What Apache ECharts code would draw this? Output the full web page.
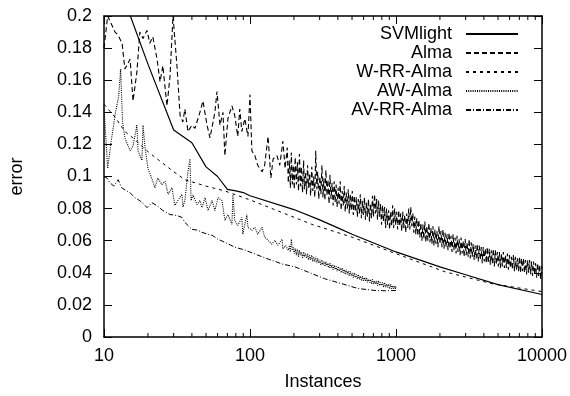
<!DOCTYPE html>
<html>
<head>
<meta charset="utf-8">
<script src="https://cdn.jsdelivr.net/npm/echarts@6/dist/echarts.min.js"></script>
<style>html,body{margin:0;padding:0;background:#fff}#c{width:570px;height:396px}</style>
</head>
<body>
<div id="c"></div>
<script>
// ---- data ([instances, error]) ----
const seriesNames = ['SVMlight', 'Alma', 'W-RR-Alma', 'AW-Alma', 'AV-RR-Alma'];
const xTicks = [10, 100, 1000, 10000];
const yTicks = [0, 0.02, 0.04, 0.06, 0.08, 0.1, 0.12, 0.14, 0.16, 0.18, 0.2];

const svmData = [[10,0.245],[20,0.170],[30,0.129],[40,0.121],[50,0.106],[60,0.100],[70,0.092],[80,0.091],[90,0.090],[100,0.088],
  [200,0.0794],[300,0.073],[400,0.068],[500,0.064],[1000,0.053],[2000,0.0437],[3000,0.0388],[5000,0.0326],[10000,0.0265]];

const wrrData = [[10,0.145],[11.9,0.137],[13.9,0.128],[15.8,0.124],[19.7,0.116],[23.1,0.111],[30,0.103],[35.8,0.098],[50,0.094],
  [67.3,0.091],[103,0.085],[265,0.0702],[500,0.0622],[1154,0.0498],[2170,0.0406],[4550,0.0332],[10000,0.0283]];

const almaData = [[10,0.180],[10.6,0.200],[11.9,0.190],[12.5,0.188],[13.3,0.183],[13.9,0.167],[15.1,0.173],[15.8,0.147],[16.8,0.165],
  [17.6,0.190],[18.5,0.186],[19.7,0.191],[20.6,0.183],[21.6,0.187],[23.1,0.173],[24.2,0.159],[25.3,0.169],[27.0,0.144],[28.3,0.162],
  [29.7,0.200],[31.6,0.169],[33.2,0.138],[34.7,0.134],[35.8,0.142],[37.6,0.128],[40.0,0.132],[42.0,0.130],[45.4,0.140],[47.6,0.147],
  [50.8,0.132],[53.2,0.124],[57.5,0.140],[59.4,0.153],[62.3,0.132],[65.3,0.140],[67.3,0.113],[70.6,0.136],[75.2,0.144],[78.6,0.138],
  [82.5,0.125],[85.1,0.142],[87.9,0.128],[92.2,0.136],[96.8,0.125],[100,0.151],[103,0.116],[108,0.113],[113,0.107],[121,0.103],
  [126,0.107],[133,0.125],[139,0.099],[144,0.111],[153,0.113],[160,0.107],[168,0.122],[174,0.105],
  [180,0.118],[183,0.096],[186,0.110],[189,0.093],[192,0.115],[195,0.095],[198,0.107],[201,0.092],[204,0.112],
  [208,0.095],[211,0.109],[215,0.091],[218,0.114],[222,0.094],[225,0.106],[229,0.090],[233,0.110],[236,0.092],[240,0.103],
  [244,0.089],[248,0.107],[252,0.093],[256,0.102],[260,0.088],[265,0.106],[269,0.091],[273,0.100],[278,0.087],[282,0.116],
  [287,0.092],[291,0.103],[296,0.086],[301,0.100],[306,0.089],[311,0.107],[316,0.087],[321,0.099],[326,0.085],[331,0.104],
  [337,0.088],[342,0.098],[348,0.083],[353,0.101],[359,0.086],[365,0.096],[371,0.082],[377,0.097],[383,0.084],[389,0.095],
  [395,0.081],[402,0.093],[408,0.083],[415,0.097],[421,0.079],[428,0.091],[435,0.082],[442,0.094],[449,0.078],[456,0.090],
  [464,0.080],[471,0.092],[479,0.077],[486,0.089],[494,0.079],[502,0.091],[510,0.076],[518,0.088],[527,0.078],[535,0.087],
  [544,0.075],[552,0.086],[561,0.077],[570,0.089],[580,0.074],[589,0.085],[598,0.076],[608,0.087],[618,0.073],[628,0.084],
  [638,0.075],[648,0.086],[658,0.072],[669,0.083],[680,0.074],[690,0.088],[701,0.075],[713,0.089],[724,0.077],[736,0.086],
  [747,0.073],[759,0.085],[772,0.075],[784,0.083],[796,0.070],[809,0.082],[822,0.072],[835,0.081],[849,0.068],[862,0.080],
  [876,0.070],[890,0.079],[904,0.067],[919,0.078],[934,0.069],[949,0.082],[964,0.068],[979,0.080],[995,0.070],[1011,0.078],
  [1027,0.067],[1044,0.079],[1060,0.069],[1077,0.077],[1095,0.066],[1112,0.078],[1130,0.068],[1148,0.076],[1166,0.065],[1185,0.077],
  [1204,0.068],[1223,0.080],[1243,0.067],[1263,0.081],[1283,0.069],[1304,0.077],[1324,0.065],[1346,0.075],[1367,0.064],[1389,0.074],
  [1411,0.063],[1434,0.073],[1457,0.062],[1480,0.071],[1504,0.060],[1528,0.070],[1552,0.061],[1577,0.072],[1602,0.059],[1628,0.069],
  [1654,0.060],[1681,0.071],[1708,0.059],[1735,0.068],[1763,0.058],[1791,0.069],[1820,0.057],[1849,0.067],[1878,0.058],[1908,0.066],
  [1939,0.056],[1970,0.069],[2001,0.058],[2033,0.066],[2066,0.056],[2099,0.067],[2133,0.055],[2167,0.065],[2201,0.056],[2237,0.064],
  [2272,0.054],[2309,0.065],[2346,0.055],[2383,0.063],[2421,0.053],[2460,0.064],[2499,0.054],[2539,0.062],[2580,0.052],[2621,0.063],
  [2663,0.053],[2706,0.061],[2749,0.051],[2793,0.062],[2838,0.052],[2883,0.060],[2929,0.050],[2976,0.061],[3024,0.051],[3072,0.059],
  [3121,0.050],[3171,0.061],[3222,0.049],[3274,0.059],[3326,0.050],[3379,0.058],[3433,0.048],[3488,0.057],[3544,0.049],[3601,0.058],
  [3658,0.047],[3717,0.057],[3776,0.048],[3837,0.056],[3898,0.046],[3960,0.056],[4024,0.047],[4088,0.055],[4154,0.046],[4220,0.056],
  [4288,0.046],[4356,0.055],[4426,0.045],[4497,0.054],[4569,0.046],[4642,0.055],[4716,0.044],[4792,0.054],[4868,0.045],[4946,0.053],
  [5025,0.044],[5106,0.053],[5188,0.043],[5271,0.052],[5355,0.044],[5441,0.053],[5528,0.043],[5616,0.051],[5706,0.043],[5797,0.052],
  [5890,0.042],[5984,0.051],[6080,0.043],[6177,0.050],[6276,0.042],[6377,0.051],[6479,0.041],[6582,0.050],[6688,0.042],[6795,0.049],
  [6903,0.041],[7014,0.050],[7126,0.040],[7240,0.049],[7356,0.041],[7473,0.049],[7593,0.040],[7714,0.048],[7838,0.039],[7963,0.048],
  [8091,0.040],[8220,0.048],[8352,0.039],[8485,0.047],[8621,0.038],[8759,0.047],[8899,0.039],[9041,0.046],[9186,0.037],[9333,0.046],
  [9482,0.038],[9634,0.045],[9788,0.036],[9945,0.044],[10000,0.040]];

const awData = [[10,0.143],[10.6,0.105],[11.2,0.122],[12.0,0.140],[12.6,0.150],[13.0,0.167],[13.4,0.134],[13.9,0.124],[15.1,0.116],
  [15.8,0.119],[16.8,0.132],[17.1,0.116],[18.2,0.110],[18.5,0.132],[19.1,0.118],[20.0,0.105],[21.6,0.097],[22.3,0.093],[23.4,0.099],
  [24.9,0.095],[26.2,0.097],[27.5,0.089],[29.2,0.093],[30.6,0.082],[32.1,0.085],[34.2,0.089],[34.7,0.081],[35.8,0.085],[37.6,0.103],
  [38.8,0.111],[39.5,0.085],[40.7,0.0886],[43.3,0.0825],[45.4,0.085],[46.9,0.0806],[49.2,0.0868],[51.6,0.0788],[55.0,0.085],
  [57.5,0.0788],[60.4,0.0868],[64.3,0.085],[67.3,0.0726],[70.6,0.0763],[75.2,0.0702],[76.4,0.0886],[78.6,0.0726],[82.5,0.0695],
  [88,0.0745],[89.3,0.064],[95.2,0.0763],[96.8,0.0683],[103,0.0665],[108,0.0683],[113,0.064],[121,0.0683],[126,0.0622],[133,0.0603],
  [141,0.0578],[148,0.0603],[155,0.0572],[166,0.0609],[168,0.0548],[175,0.057],
  [180,0.058],[183,0.054],[186,0.057],[189,0.053],[192,0.061],[195,0.054],[198,0.056],[201,0.052],[204,0.055],
  [208,0.051],[211,0.055],[215,0.050],[218,0.054],[222,0.051],[225,0.053],[229,0.049],[233,0.053],[236,0.050],[240,0.052],
  [244,0.049],[248,0.052],[252,0.048],[256,0.051],[260,0.048],[265,0.051],[269,0.047],[273,0.050],[278,0.047],[282,0.050],
  [287,0.046],[291,0.049],[296,0.046],[301,0.048],[306,0.045],[311,0.048],[316,0.045],[321,0.047],[326,0.044],[331,0.047],
  [337,0.044],[342,0.046],[348,0.043],[353,0.046],[359,0.043],[365,0.045],[371,0.042],[377,0.045],[383,0.042],[389,0.044],
  [395,0.041],[402,0.044],[408,0.041],[415,0.043],[421,0.040],[428,0.043],[435,0.040],[442,0.042],[449,0.039],[456,0.042],
  [464,0.039],[471,0.041],[479,0.038],[486,0.041],[494,0.038],[502,0.040],[510,0.037],[518,0.040],[527,0.037],[535,0.039],
  [544,0.036],[552,0.039],[561,0.036],[570,0.038],[580,0.035],[589,0.038],[598,0.035],[608,0.037],[618,0.035],[628,0.037],
  [638,0.034],[648,0.036],[658,0.034],[669,0.036],[680,0.033],[690,0.036],[701,0.033],[713,0.035],[724,0.033],[736,0.035],
  [747,0.032],[759,0.035],[772,0.032],[784,0.034],[796,0.032],[809,0.034],[822,0.031],[835,0.034],[849,0.031],[862,0.033],
  [876,0.031],[890,0.033],[904,0.030],[919,0.033],[934,0.030],[949,0.032],[964,0.030],[979,0.032],[995,0.030],[1000,0.032]];

const avrrData = [[10,0.100],[10.5,0.099],[11.0,0.096],[11.7,0.094],[12.5,0.098],[13.2,0.093],[13.9,0.0917],[15.1,0.0898],
  [16.3,0.0868],[17.6,0.0849],[18.6,0.083],[19.7,0.0806],[21.3,0.0837],[23.1,0.0818],[25.3,0.0788],[28.3,0.0763],[31.6,0.0757],
  [34.2,0.0745],[35.8,0.0714],[40.0,0.0671],[44.0,0.0665],[46.9,0.0652],[51.6,0.064],[55,0.0634],[60.4,0.0609],[67.3,0.059],
  [78.6,0.056],[92.2,0.0542],[108,0.0517],[133,0.0486],[166,0.0455],[203,0.0437],[248,0.0406],[325,0.0363],[426,0.0332],
  [550,0.0302],[718,0.029],[850,0.0288],[1000,0.029]];

// minor tick positions of the log axis (2..9 per decade)
const minorTicks = [];
[10, 100, 1000].forEach(d => { for (let k = 2; k <= 9; k++) minorTicks.push(d * k); });

const FONT = "'Liberation Sans', Arial, Helvetica, sans-serif";
const chart = echarts.init(document.getElementById('c'), null, {renderer: 'canvas'});

function lineSeries(name, data, type, width) {
  return {
    name: name, type: 'line', data: data, showSymbol: false, symbol: 'none',
    xAxisIndex: 0, yAxisIndex: 0, clip: true,
    lineStyle: {color: '#000', width: width, type: type},
    itemStyle: {color: '#000'}, emphasis: {disabled: true}
  };
}

const axisCommon = {
  axisLine: {show: true, onZero: false, lineStyle: {color: '#000', width: 1.5}},
  axisTick: {show: true, inside: true, length: 8, lineStyle: {color: '#000', width: 1}},
  splitLine: {show: false}
};

const option = {
  animation: false,
  backgroundColor: '#fff',
  textStyle: {fontFamily: FONT},
  grid: {left: 104, right: 28, top: 16, bottom: 55, containLabel: false},
  legend: {
    data: seriesNames,
    orient: 'vertical', align: 'right',
    right: 51, top: 25, padding: 0,
    itemWidth: 52, itemHeight: 12, itemGap: 1,
    itemStyle: {color: 'rgba(0,0,0,0)', borderColor: 'rgba(0,0,0,0)', borderWidth: 0, opacity: 0},
    textStyle: {fontSize: 18, color: '#000', fontFamily: FONT, lineHeight: 18, padding: [0, 9, 0, 0]},
    selectedMode: false
  },
  xAxis: [
    Object.assign({}, axisCommon, {
      type: 'log', logBase: 10, min: xTicks[0], max: xTicks[xTicks.length - 1], position: 'bottom',
      name: 'Instances', nameLocation: 'middle', nameGap: 36,
      nameTextStyle: {fontSize: 18, color: '#000', fontFamily: FONT},
      axisLabel: {fontSize: 18, color: '#000', margin: 10, fontFamily: FONT, formatter: v => String(v)}
    }),
    Object.assign({}, axisCommon, {
      type: 'log', logBase: 10, min: xTicks[0], max: xTicks[xTicks.length - 1], position: 'top',
      axisLabel: {show: false}
    })
  ],
  yAxis: [
    Object.assign({}, axisCommon, {
      type: 'value', min: yTicks[0], max: yTicks[yTicks.length - 1], interval: 0.02, position: 'left',
      name: 'error', nameLocation: 'middle', nameGap: 78, nameRotate: 90,
      nameTextStyle: {fontSize: 18, color: '#000', fontFamily: FONT},
      axisLabel: {fontSize: 18, color: '#000', margin: 12, fontFamily: FONT}
    }),
    Object.assign({}, axisCommon, {
      type: 'value', min: yTicks[0], max: yTicks[yTicks.length - 1], interval: 0.02, position: 'right',
      axisLabel: {show: false}
    })
  ],
  series: [
    lineSeries('SVMlight', svmData, 'solid', 1.2),
    lineSeries('Alma', almaData, [5, 3], 1.1),
    lineSeries('W-RR-Alma', wrrData, [3, 4], 1),
    lineSeries('AW-Alma', awData, [1, 1.2], 1.1),
    lineSeries('AV-RR-Alma', avrrData, [5, 2, 1, 2], 1),
    {
      type: 'custom', name: 'minorTicks', silent: true, xAxisIndex: 0, yAxisIndex: 0,
      data: minorTicks.map(n => [n, 0]),
      renderItem: function (params, api) {
        const n = api.value(0);
        const pb = api.coord([n, yTicks[0]]);
        const pt = api.coord([n, yTicks[yTicks.length - 1]]);
        return {type: 'group', children: [
          {type: 'line', shape: {x1: pb[0], y1: pb[1], x2: pb[0], y2: pb[1] - 4}, style: {stroke: '#000', lineWidth: 1}},
          {type: 'line', shape: {x1: pt[0], y1: pt[1], x2: pt[0], y2: pt[1] + 4}, style: {stroke: '#000', lineWidth: 1}}
        ]};
      }
    }
  ]
};
chart.setOption(option);
</script>
</body>
</html>
